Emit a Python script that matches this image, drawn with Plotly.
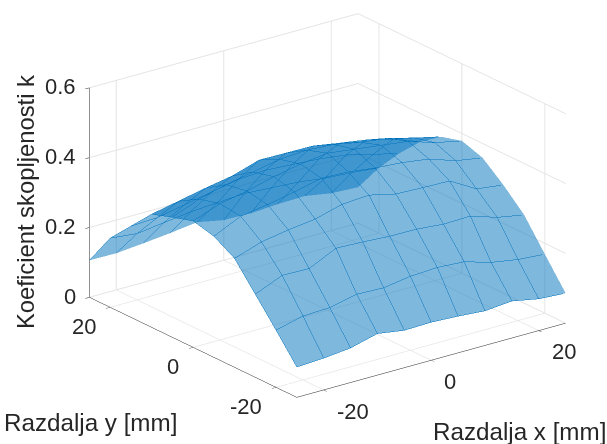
import plotly.graph_objects as go

x_mm = [-25, -20, -15, -10, -5, 0, 5, 10, 15, 20, 25]
y_mm = [-25, -20, -15, -10, -5, 0, 5, 10, 15, 20, 25]

row_ym25 = [.087, .091, .099, .119, .107, .109, .105, .099, .106, .091, .086]
row_ym20 = [.164, .183, .186, .203, .200, .212, .216, .211, .188, .175, .169]
row_ym15 = [.238, .271, .269, .306, .303, .298, .297, .290, .292, .267, .253]
row_ym10 = [.312, .338, .351, .361, .382, .387, .369, .366, .364, .320, .310]
row_ym5 = [.347, .383, .395, .410, .428, .425, .415, .409, .398, .372, .359]
row_y0 = [.362, .390, .405, .425, .440, .450, .440, .430, .420, .395, .379]
row_y5 = [.344, .375, .395, .410, .425, .430, .425, .410, .400, .380, .362]
row_y10 = [.324, .340, .356, .370, .394, .393, .392, .379, .367, .348, .319]
row_y15 = [.261, .265, .280, .295, .310, .315, .310, .305, .295, .275, .258]
row_y20 = [.198, .190, .200, .210, .215, .220, .215, .210, .200, .195, .187]
row_y25 = [.106, .105, .112, .120, .130, .115, .113, .118, .120, .107, .103]
k = [row_ym25, row_ym20, row_ym15, row_ym10, row_ym5, row_y0, row_y5, row_y10, row_y15, row_y20, row_y25]

x_ticks = [-20, 0, 20]
y_ticks = [-20, 0, 20]
z_ticks = [0, 0.2, 0.4, 0.6]
z_labels = ["0", "0.2", "0.4", "0.6"]

BLUE = "#0072BD"
TXT = "#262626"
FONT = "Liberation Sans"

grid = dict(show=True, color=BLUE, width=2, start=-25, end=25, size=5, highlight=False)

fig = go.Figure(go.Surface(
    x=x_mm, y=y_mm, z=k,
    surfacecolor=[[0] * len(x_mm) for _ in y_mm],
    colorscale=[[0, BLUE], [1, BLUE]], showscale=False, opacity=0.5,
    lighting=dict(ambient=1, diffuse=0, specular=0, roughness=1, fresnel=0),
    contours=dict(x=grid, y=grid, z=dict(show=False, highlight=False)),
    hoverinfo="skip",
))

def axis(rng, ticks):
    return dict(
        range=rng, autorange=False, tickmode="array", tickvals=ticks, showticklabels=False,
        title=dict(text=""), showgrid=True, gridcolor="#e4e4e4", gridwidth=2,
        showline=True, linecolor=TXT, linewidth=1, zeroline=False, showbackground=False,
        showspikes=False, ticks="outside", ticklen=5, tickcolor=TXT, tickwidth=1,
    )

tick_font = dict(family=FONT, size=22, color=TXT)
label_font = dict(family=FONT, size=24.2, color=TXT)
zlabel_font = dict(family=FONT, size=23.8, color=TXT)

def tick(x, y, z, text, xanchor, xshift, yshift):
    return dict(x=x, y=y, z=z, text=text, showarrow=False, font=tick_font,
                xanchor=xanchor, yanchor="middle", xshift=xshift, yshift=yshift)

scene_notes = (
    [tick(v, -25, 0, str(v), "left", 11, -21) for v in x_ticks]
    + [tick(-25, v, 0, str(v), "right", -12, -19) for v in y_ticks]
    + [tick(-25, 25, v, t, "right", -11, 1) for v, t in zip(z_ticks, z_labels)]
)

fig.update_layout(
    width=607, height=444, margin=dict(l=0, r=0, t=0, b=0), paper_bgcolor="white",
    font=dict(family=FONT, color=TXT),
    scene=dict(
        domain=dict(x=[0.079, 1], y=[0.074, 1]),
        xaxis=axis([-25, 25], x_ticks), yaxis=axis([-25, 25], y_ticks),
        zaxis=axis([0, 0.6], z_ticks),
        aspectmode="manual", aspectratio=dict(x=1.64, y=1.673, z=1.095),
        camera=dict(projection=dict(type="orthographic"), eye=dict(x=-1.124, y=-1.486, z=0.73),
                    up=dict(x=0, y=0, z=1), center=dict(x=0, y=0, z=0)),
        annotations=scene_notes,
    ),
    annotations=[
        dict(text="Razdalja x [mm]", x=519 / 607, y=1 - 431 / 444, xref="paper", yref="paper", showarrow=False,
             font=label_font, xanchor="center", yanchor="middle"),
        dict(text="Razdalja y [mm]", x=90 / 607, y=1 - 422 / 444, xref="paper", yref="paper", showarrow=False,
             font=label_font, xanchor="center", yanchor="middle"),
        dict(text="Koeficient skopljenosti k", x=25 / 607, y=1 - 202 / 444, xref="paper", yref="paper", showarrow=False,
             font=zlabel_font, textangle=-90, xanchor="center", yanchor="middle"),
    ],
)

fig.write_html("out.html", config={"displayModeBar": False}, post_script="document.body.style.margin='0';")
